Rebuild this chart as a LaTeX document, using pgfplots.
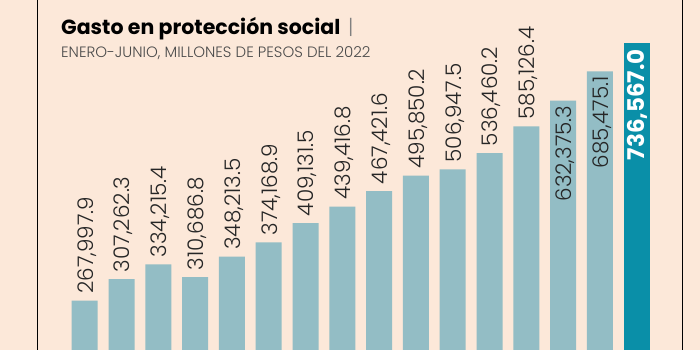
\documentclass[border=0pt]{standalone}
\usepackage{pgfplots}
\pgfplotsset{compat=1.18}
\usepackage{fontspec}
\setmainfont{Poppins}
\newfontfamily\labelfont{Poppins Light}
\newfontfamily\boldfont{Poppins Bold}
\definecolor{bg}{HTML}{FCE8D9}
\definecolor{barc}{HTML}{93BDC5}
\definecolor{teal}{HTML}{0A8FA8}
\definecolor{sub}{HTML}{4A4A4A}
\begin{document}
\begin{tikzpicture}[x=1pt,y=1pt]
\fill[bg] (0,0) rectangle (700,350);
\useasboundingbox (0,0) rectangle (700,350);
\begin{axis}[at={(0pt,0pt)}, anchor=south west, width=700pt, height=350pt,
  scale only axis, axis lines=none, clip=false,
  xmin=-2.302, xmax=16.72, ymin=178200, ymax=815400,
  ybar, bar width=26pt, bar shift=0pt,
  point meta=explicit symbolic]
\addplot[fill=barc, draw=none,
  nodes near coords,
  nodes near coords style={xshift=2pt, rotate=90, anchor=west, inner sep=0pt, outer sep=0pt, outer xsep=7pt, font=\labelfont\fontsize{21.5}{21.5}\selectfont, text=black!85}]
 table[meta=lab] {
x y lab
0 267997.9 267,997.9
1 307262.3 307,262.3
2 334215.4 334,215.4
3 310686.8 310,686.8
4 348213.5 348,213.5
5 374168.9 374,168.9
6 409131.5 409,131.5
7 439416.8 439,416.8
8 467421.6 467,421.6
9 495850.2 495,850.2
10 506947.5 506,947.5
11 536460.2 536,460.2
12 585126.4 585,126.4
};
\addplot[fill=barc, draw=none,
  nodes near coords,
  nodes near coords style={xshift=2pt, rotate=90, anchor=east, inner sep=0pt, outer sep=0pt, outer xsep=5pt, font=\labelfont\fontsize{21.5}{21.5}\selectfont, text=black!85}]
 table[meta=lab] {
x y lab
13 632375.3 632,375.3
14 685475.1 685,475.1
};
\addplot[fill=teal, draw=none,
  nodes near coords,
  nodes near coords style={xshift=1pt, rotate=90, anchor=east, inner sep=0pt, outer sep=0pt, outer xsep=6pt, font=\boldfont\fontsize{23}{23}\selectfont, text=white}]
 table[meta=lab] {
x y lab
15 736567.0 736,567.0
};
\end{axis}
\draw[black, line width=1.5pt] (37.5,0) -- (37.5,350);
\draw[black, line width=1.5pt] (682.7,0) -- (682.7,350);
\node[anchor=base west, inner sep=0pt] at (61,315) {\boldfont\fontsize{20.5}{20.5}\selectfont Gasto en protección social {\labelfont\color{gray}\,|}};
\node[anchor=base west, inner sep=0pt, text=sub] at (61,292) {\labelfont\fontsize{15}{15}\selectfont ENERO-JUNIO, MILLONES DE PESOS DEL 2022};
\end{tikzpicture}
\end{document}
